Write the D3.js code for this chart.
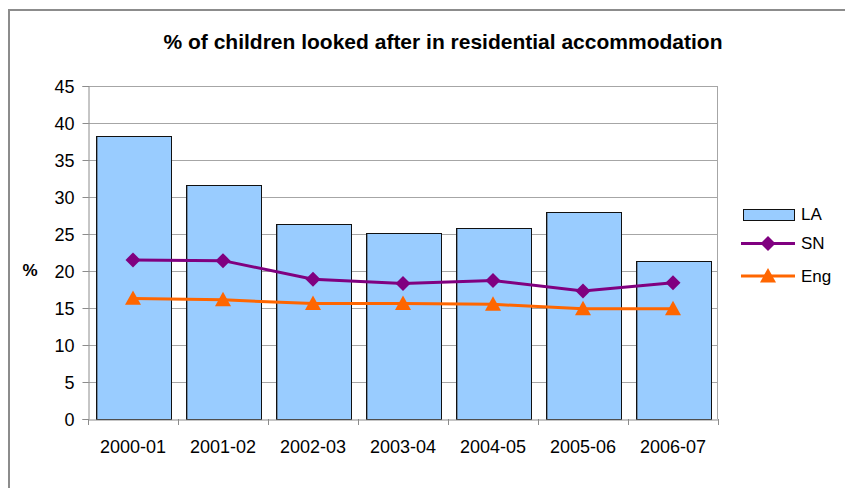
<!DOCTYPE html>
<html>
<head>
<meta charset="utf-8">
<script src="https://cdn.jsdelivr.net/npm/d3@7"></script>
<style>
  html, body { margin: 0; padding: 0; background: #fff; }
  svg { display: block; font-family: "Liberation Sans", Arial, sans-serif; }
</style>
</head>
<body>
<svg id="chart" width="845" height="488"></svg>
<script>
// Residential accommodation share of looked-after children, by year
const years = ["2000-01", "2001-02", "2002-03", "2003-04", "2004-05", "2005-06", "2006-07"];
const laValues = [38.2, 31.6, 26.4, 25.2, 25.8, 28.0, 21.4];
const snValues = [21.5, 21.4, 18.9, 18.3, 18.7, 17.3, 18.4];
const engValues = [16.3, 16.1, 15.6, 15.6, 15.5, 14.9, 14.9];
const yTicks = [0, 5, 10, 15, 20, 25, 30, 35, 40, 45];
const legendNames = ["LA", "SN", "Eng"];

const colors = { LA: "#99CCFF", SN: "#800080", Eng: "#FF6600" };
const svg = d3.select("#chart");

// chart-area frame (left and top edges)
svg.append("path")
  .attr("d", "M9,488 V10 H845")
  .attr("fill", "none").attr("stroke", "#8c8c8c").attr("stroke-width", 2);

const plot = { left: 88, right: 718, top: 86, bottom: 419 };

const x = d3.scaleBand().domain(years)
  .range([plot.left, plot.right])
  .paddingInner(1 / 6).paddingOuter(1 / 12);
const y = d3.scaleLinear().domain([0, 45]).range([plot.bottom, plot.top]);

// gridlines
svg.append("g").selectAll("line").data(yTicks.filter(d => d > 0)).join("line")
  .attr("x1", plot.left).attr("x2", plot.right)
  .attr("y1", d => Math.round(y(d)) + 0.5).attr("y2", d => Math.round(y(d)) + 0.5)
  .attr("stroke", "#a6a6a6").attr("stroke-width", 1);

// right edge of plot area
svg.append("line")
  .attr("x1", plot.right - 0.5).attr("x2", plot.right - 0.5)
  .attr("y1", plot.top).attr("y2", plot.bottom)
  .attr("stroke", "#a6a6a6");

// bars
const bars = svg.append("g");
bars.selectAll("rect").data(years).join("rect")
  .attr("x", d => Math.round(x(d)) + 0.5)
  .attr("y", (d, i) => Math.round(y(laValues[i])) + 0.5)
  .attr("width", Math.round(x.bandwidth()))
  .attr("height", (d, i) => Math.round(y(0)) - Math.round(y(laValues[i])))
  .attr("fill", colors.LA).attr("stroke", "#111").attr("stroke-width", 1);
bars.selectAll("line").data(years).join("line")
  .attr("x1", d => Math.round(x(d)) + 1.5).attr("x2", d => Math.round(x(d)) + 1.5)
  .attr("y1", (d, i) => Math.round(y(laValues[i])) + 1)
  .attr("y2", Math.round(y(0)))
  .attr("stroke", "#6f8aa6").attr("stroke-width", 1);

// axes
const yAxis = d3.axisLeft(y).tickValues(yTicks).tickSize(6).tickPadding(8);
const gy = svg.append("g").attr("transform", `translate(${plot.left + 0.5},0)`).call(yAxis);
const xAxis = d3.axisBottom(x).tickSize(0).tickPadding(21);
const gx = svg.append("g").attr("transform", `translate(0,${plot.bottom + 0.5})`).call(xAxis);
[gy, gx].forEach(g => {
  g.select(".domain").attr("stroke", "#8c8c8c");
  g.selectAll(".tick line").attr("stroke", "#8c8c8c");
  g.selectAll("text").attr("fill", "#000").style("font-size", "18px")
    .style("font-family", "'Liberation Sans', Arial, sans-serif");
});
gy.selectAll("text").attr("dy", "0.35em");
// category boundary ticks on the x axis
svg.append("g").selectAll("line").data(d3.range(years.length + 1)).join("line")
  .attr("x1", i => plot.left + 0.5 + i * x.step()).attr("x2", i => plot.left + 0.5 + i * x.step())
  .attr("y1", plot.bottom).attr("y2", plot.bottom + 6)
  .attr("stroke", "#8c8c8c");

// lines with markers
const line = d3.line().x((d, i) => x(years[i]) + x.bandwidth() / 2).y(d => y(d));
svg.append("path").datum(snValues).attr("d", line)
  .attr("fill", "none").attr("stroke", colors.SN).attr("stroke-width", 3);
svg.append("path").datum(engValues).attr("d", line)
  .attr("fill", "none").attr("stroke", colors.Eng).attr("stroke-width", 3);

const diamond = s => `M0,${-s} L${s},0 L0,${s} L${-s},0 Z`;
const triangle = s => `M0,${-s} L${s},${s * 0.8} L${-s},${s * 0.8} Z`;

svg.append("g").selectAll("path").data(snValues).join("path")
  .attr("transform", (d, i) => `translate(${x(years[i]) + x.bandwidth() / 2},${y(d)})`)
  .attr("d", diamond(7.5)).attr("fill", colors.SN);
svg.append("g").selectAll("path").data(engValues).join("path")
  .attr("transform", (d, i) => `translate(${x(years[i]) + x.bandwidth() / 2},${y(d)})`)
  .attr("d", triangle(8)).attr("fill", colors.Eng);

// title
svg.append("text").attr("x", 443).attr("y", 49).attr("text-anchor", "middle")
  .style("font-size", "21px").style("font-weight", "bold")
  .text("% of children looked after in residential accommodation");

// y axis title
svg.append("text").attr("x", 30).attr("y", 270).attr("text-anchor", "middle")
  .attr("dy", "0.35em").style("font-size", "17px").style("font-weight", "bold").text("%");

// legend
const legend = svg.append("g");
const ly = [214.5, 243.5, 276];
legend.append("rect").attr("x", 743.5).attr("y", 209.5).attr("width", 51).attr("height", 11)
  .attr("fill", colors.LA).attr("stroke", "#111");
legend.append("line").attr("x1", 741).attr("x2", 795).attr("y1", ly[1]).attr("y2", ly[1])
  .attr("stroke", colors.SN).attr("stroke-width", 3);
legend.append("path").attr("transform", `translate(768,${ly[1]})`).attr("d", diamond(7.5)).attr("fill", colors.SN);
legend.append("line").attr("x1", 741).attr("x2", 795).attr("y1", ly[2]).attr("y2", ly[2])
  .attr("stroke", colors.Eng).attr("stroke-width", 3);
legend.append("path").attr("transform", `translate(768,${ly[2]})`).attr("d", triangle(8)).attr("fill", colors.Eng);
legend.selectAll("text").data(legendNames).join("text")
  .attr("x", 801).attr("y", (d, i) => ly[i]).attr("dy", "0.35em")
  .style("font-size", "17px").text(d => d);
</script>
</body>
</html>
